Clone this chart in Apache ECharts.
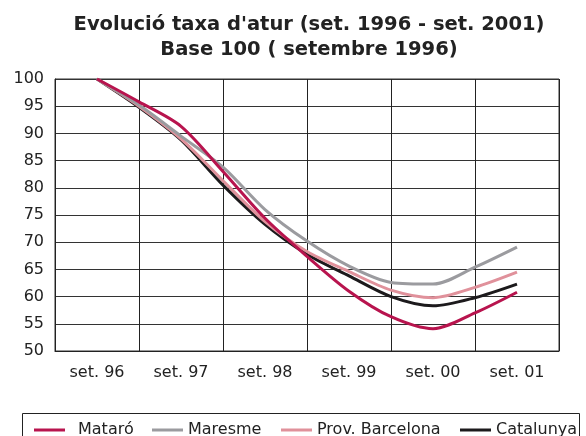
<!DOCTYPE html>
<html>
<head>
<meta charset="utf-8">
<script src="https://cdn.jsdelivr.net/npm/echarts@6/dist/echarts.min.js"></script>
<style>
  html, body { margin: 0; padding: 0; background: #fff; }
  #chart { width: 586px; height: 436px; }
</style>
</head>
<body>
<div id="chart"></div>
<script>
// x labels (one per year, september)
var years = ['set. 96', 'set. 97', 'set. 98', 'set. 99', 'set. 00', 'set. 01']
// half-year steps from set. 96 (0) to set. 01 (10)
var steps = [0, 1, 2, 3, 4, 5, 6, 7, 8, 9, 10]

var mataro    = [100, 95.8, 91.3, 83.0, 74.4, 67.4, 61.0, 56.3, 54.1, 57.0, 60.8]
var maresme   = [100, 95.2, 89.5, 83.8, 76.0, 70.2, 65.6, 62.6, 62.3, 65.4, 69.1]
var provBcn   = [100, 95.0, 89.0, 81.3, 73.8, 68.3, 64.6, 61.2, 59.8, 61.7, 64.5]
var catalunya = [100, 94.8, 88.8, 80.5, 73.3, 67.8, 63.8, 60.0, 58.3, 59.8, 62.3]

var names = ['Mataró', 'Maresme', 'Prov. Barcelona', 'Catalunya']
var colors = ['#b8144e', '#9b9b9f', '#e0919b', '#1c1a1c']

function pairs(vals) {
  return vals.map(function (v, i) { return [steps[i], v] })
}

var font = 'DejaVu Sans'
var chart = echarts.init(document.getElementById('chart'))

var legendLeft = [29, 147, 276, 455]

chart.setOption({
  animation: false,
  textStyle: { fontFamily: font },
  title: {
    text: "Evolució taxa d'atur (set. 1996 - set. 2001)\nBase 100 ( setembre 1996)",
    left: 304,
    textAlign: 'center',
    top: 7,
    textStyle: { fontSize: 19.5, fontWeight: 'bold', color: '#222', lineHeight: 25, fontFamily: font }
  },
  legend: names.map(function (n, i) {
    return {
      data: [n],
      left: legendLeft[i],
      top: 417,
      itemWidth: 31,
      itemHeight: 3,
      icon: 'rect',
      textStyle: { fontSize: 16, color: '#222', fontFamily: font, padding: i == 0 ? [0, 0, 0, 8] : 0 }
    }
  }),
  graphic: [{
    type: 'rect',
    shape: { x: 22.5, y: 413.5, width: 557, height: 30 },
    style: { fill: 'none', stroke: '#222', lineWidth: 1 }
  }],
  grid: { left: 55, right: 27, top: 79, bottom: 85, show: true, borderColor: '#333', borderWidth: 1 },
  xAxis: [{
    type: 'category',
    data: years,
    boundaryGap: true,
    axisLine: { lineStyle: { color: '#222' } },
    axisTick: { show: false },
    axisLabel: { fontSize: 16, color: '#222', margin: 14, fontFamily: font },
    splitLine: { show: true, lineStyle: { color: '#222', width: 1 } }
  }, {
    type: 'value',
    min: -1,
    max: 11,
    show: false,
    axisLine: { show: false },
    axisTick: { show: false },
    axisLabel: { show: false },
    splitLine: { show: false }
  }],
  yAxis: {
    type: 'value',
    min: 50,
    max: 100,
    interval: 5,
    axisLine: { show: true, onZero: false, lineStyle: { color: '#222' } },
    axisTick: { show: false },
    axisLabel: { fontSize: 16, color: '#222', margin: 11, fontFamily: font },
    splitLine: { lineStyle: { color: '#333', width: 1 } }
  },
  series: [
    { name: names[0], data: pairs(mataro) },
    { name: names[1], data: pairs(maresme) },
    { name: names[2], data: pairs(provBcn) },
    { name: names[3], data: pairs(catalunya) }
  ].map(function (s, i) {
    return {
      name: s.name,
      type: 'line',
      xAxisIndex: 1,
      data: s.data,
      smooth: 0.3,
      showSymbol: false,
      color: colors[i],
      lineStyle: { width: 3, color: colors[i] },
      z: 10 - i
    }
  })
})
</script>
</body>
</html>
